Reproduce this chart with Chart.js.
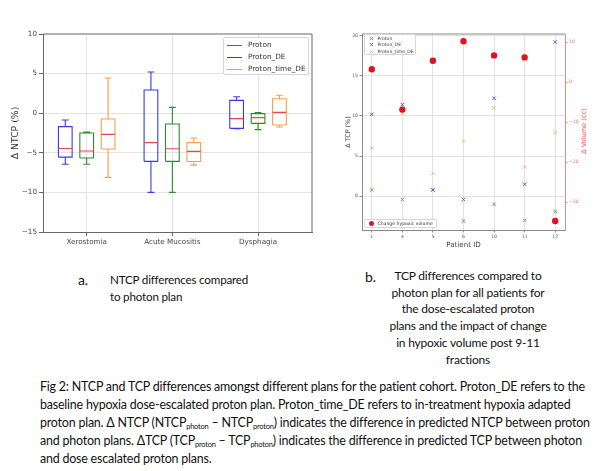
<!DOCTYPE html>
<html>
<head>
<meta charset="utf-8">
<script src="https://cdn.jsdelivr.net/npm/chart.js@4.4.1/dist/chart.umd.min.js"></script>
<style>
  body { margin: 0; background: #fff; width: 600px; height: 471px; position: relative; overflow: hidden; font-family: "DejaVu Sans", sans-serif; }
  .abs { position: absolute; }
  #boxWrap { left: 0; top: 20px; width: 330px; height: 240px; }
  #tcpWrap { left: 335px; top: 20px; width: 265px; height: 240px; }
  .legend { position: absolute; background: rgba(255,255,255,0.85); border: 1px solid #d6d6d6; border-radius: 2px; box-sizing: border-box; color: #333; }
  .legend .row { position: absolute; white-space: nowrap; }
  .cap { position: absolute; font-family: Lato, sans-serif; color: #111; white-space: nowrap; letter-spacing: -0.2px; }
  sub { font-size: 60%; vertical-align: -2px; line-height: 0; }
</style>
</head>
<body>
<div id="boxWrap" class="abs"><canvas id="boxChart"></canvas></div>
<div id="tcpWrap" class="abs"><canvas id="tcpChart"></canvas></div>

<div id="boxLegend" class="legend" style="left:223px;top:37px;width:86px;height:38px"></div>
<div id="tcpLegend" class="legend" style="left:364px;top:34px;width:52px;height:21px"></div>
<div id="volLegend" class="legend" style="left:364px;top:219px;width:73px;height:9px"></div>
<div class="abs" style="left:584px;top:131px;width:0;height:0">
  <div style="position:absolute;transform:translate(-50%,-50%) rotate(-90deg);font-size:6.6px;color:#e84848;white-space:nowrap">Δ Volume (cc)</div>
</div>

<div class="cap" style="left:78px;top:271px;font-size:14px">a.</div>
<div id="capA" class="cap" style="left:110px;top:271px;font-size:14px;line-height:17px"><span class="l">NTCP differences compared</span><br><span class="l">to photon plan</span></div>
<div class="cap" style="left:365px;top:268px;font-size:14px">b.</div>
<div id="capB" class="cap" style="left:468px;top:268px;font-size:14px;line-height:16.7px;text-align:center;transform:translateX(-50%)"><span class="l">TCP differences compared to</span><br><span class="l">photon plan for all patients for</span><br><span class="l">the dose-escalated proton</span><br><span class="l">plans and the impact of change</span><br><span class="l">in hypoxic volume post 9-11</span><br><span class="l">fractions</span></div>
<div id="capFig" class="cap" style="left:40px;top:378px;font-size:12.5px;line-height:18px"><span class="l">Fig 2: NTCP and TCP differences amongst different plans for the patient cohort. Proton_DE refers to the</span><br><span class="l">baseline hypoxia dose-escalated proton plan. Proton_time_DE refers to in-treatment hypoxia adapted</span><br><span class="l">proton plan. Δ NTCP (NTCP<sub>photon</sub> – NTCP<sub>proton</sub>) indicates the difference in predicted NTCP between proton</span><br><span class="l">and photon plans. ΔTCP (TCP<sub>proton</sub> – TCP<sub>photon</sub>) indicates the difference in predicted TCP between photon</span><br><span class="l">and dose escalated proton plans.</span></div>

<script>
// ---- panel a: NTCP box plots ----
const organs = ["Xerostomia", "Acute Mucositis", "Dysphagia"];
const planNames = ["Proton", "Proton_DE", "Proton_time_DE"];
// [lower whisker, Q1, median, Q3, upper whisker] per organ
const protonBox = [[-6.45, -5.65, -4.77, -2.5, -2.37], [-10, -6.08, -4.48, -1.36, 0.74], [-2.08, -1.28, -0.56, -0.05, 0.07]];
const protonDeBox = [[-6.45, -5.55, -4.45, -1.7, -0.86], [-10, -6.08, -3.72, 2.93, 5.2], [-1.95, -1.91, -0.69, 1.62, 2.08]];
const protonTimeDeBox = [[-8.1, -4.52, -2.67, -0.73, 4.45], [-6.55, -6.1, -4.82, -3.72, -3.13], [-1.74, -1.49, 0.1, 1.83, 2.26]];
const ntcpTicks = [-15, -10, -5, 0, 5, 10];

// ---- panel b: TCP per patient ----
const patientIds = ["1", "4", "5", "6", "10", "11", "12"];
const tcpProton = [0.8, -0.4, 0.8, -3.1, -1.0, -3.0, -1.9];
const tcpProtonDe = [10.2, 11.4, 0.8, -0.4, 12.2, 1.5, 19.2];
const tcpProtonTimeDe = [6.0, 10.3, 2.85, 6.85, 11.0, 3.65, 7.9];
const hypoxicVolumeChange = [3.2, -6.9, 5.3, 10.2, 6.65, 6.15, -34.75];
const tcpTicks = [0, 5, 10, 15, 20];
const volumeTicks = [-30, -20, -10, 0, 10];

const boxColors = ["#2f8a2f", "#3b3be3", "#f5a04c"];
const boxOffsets = [0, -0.25, 0.25];
const medianColor = "#e4474d";
const markColors = ["#4d9e4d", "#4646e0", "#f2b376"];
const volumeColor = "#e0141c";
const volAxisColor = "#f08a8a";

Chart.defaults.font.family = "DejaVu Sans";
Chart.defaults.animation = false;

const minus = v => (v < 0 ? "\u2212" + Math.abs(v) : String(v));

// top/right spines like a matplotlib axes box
const framePlugin = {
  id: "frame",
  beforeDatasetsDraw(chart, args, opts) {
    const { ctx, chartArea: a } = chart;
    ctx.save();
    ctx.strokeStyle = opts.color;
    ctx.lineWidth = 1;
    ctx.beginPath();
    ctx.moveTo(a.left, a.top);
    ctx.lineTo(a.right, a.top);
    if (opts.right) ctx.lineTo(a.right, a.bottom);
    ctx.stroke();
    ctx.restore();
  }
};

const boxWidth = 0.16;
const gap = x => ({ x: x, y: null });

function boxLines(stats, offset) {
  const pts = [];
  stats.forEach(([lo, q1, med, q3, hi], i) => {
    const c = i + 1 + offset, h = boxWidth / 2, cap = boxWidth / 4;
    pts.push({ x: c - h, y: q1 }, { x: c + h, y: q1 }, { x: c + h, y: q3 }, { x: c - h, y: q3 }, { x: c - h, y: q1 }, gap(c));
    pts.push({ x: c, y: q3 }, { x: c, y: hi }, gap(c), { x: c - cap, y: hi }, { x: c + cap, y: hi }, gap(c));
    pts.push({ x: c, y: q1 }, { x: c, y: lo }, gap(c), { x: c - cap, y: lo }, { x: c + cap, y: lo }, gap(c));
  });
  return pts;
}

function medianLines(stats, offset) {
  const pts = [];
  stats.forEach((s, i) => {
    const c = i + 1 + offset, h = boxWidth / 2;
    pts.push({ x: c - h, y: s[2] }, { x: c + h, y: s[2] }, gap(c));
  });
  return pts;
}

const allBoxes = [protonBox, protonDeBox, protonTimeDeBox];
const boxDatasets = [];
allBoxes.forEach((stats, k) => {
  boxDatasets.push({
    label: planNames[k], data: boxLines(stats, boxOffsets[k]),
    showLine: true, spanGaps: false, borderColor: boxColors[k], borderWidth: 1.1,
    pointRadius: 0, order: 2
  });
  boxDatasets.push({
    label: planNames[k] + " median", data: medianLines(stats, boxOffsets[k]),
    showLine: true, spanGaps: false, borderColor: medianColor, borderWidth: 1.1,
    pointRadius: 0, order: 1
  });
});

new Chart(document.getElementById("boxChart"), {
  type: "scatter",
  data: { datasets: boxDatasets },
  plugins: [framePlugin],
  options: {
    responsive: true, maintainAspectRatio: false,
    layout: { padding: { top: 14, right: 18, left: 0, bottom: 0 } },
    plugins: { legend: { display: false }, tooltip: { enabled: false }, frame: { color: "#666", right: true } },
    scales: {
      x: {
        type: "linear", min: 0.49, max: 3.63,
        afterBuildTicks: s => { s.ticks = organs.map((_, i) => ({ value: i + 1 })); },
        afterFit: s => { s.height = 28; },
        ticks: { callback: (v, i) => organs[i], font: { size: 7.2 }, color: "#444", padding: 2, maxRotation: 0 },
        grid: { color: "#e4e4e4", tickLength: 4, tickColor: "#666" },
        border: { color: "#666" }
      },
      y: {
        min: -15, max: 10,
        afterBuildTicks: s => { s.ticks = ntcpTicks.map(v => ({ value: v })); },
        afterFit: s => { s.width = 43; },
        ticks: { callback: v => minus(v), font: { size: 7.2 }, color: "#444", padding: 2 },
        grid: { color: c => (c.tick && (c.tick.value === 10 || c.tick.value === -15) ? "rgba(0,0,0,0)" : "#e4e4e4"), tickLength: 4, tickColor: "#666" },
        border: { color: "#666" },
        title: { display: true, text: "Δ NTCP (%)", font: { size: 9.3 }, color: "#333", padding: { top: 10, bottom: 0 } }
      }
    }
  }
});

// ---- panel b chart ----
const toPts = arr => arr.map((v, i) => ({ x: i, y: v }));
const tcpSeries = [tcpProton, tcpProtonDe, tcpProtonTimeDe];
const tcpDatasets = tcpSeries.map((arr, k) => ({
  label: planNames[k], data: toPts(arr), yAxisID: "y",
  pointStyle: "crossRot", pointRadius: 2.5, borderWidth: 0.9,
  borderColor: markColors[k], backgroundColor: markColors[k], order: 4 - k
}));
tcpDatasets.push({
  label: "Change hypoxic volume", data: toPts(hypoxicVolumeChange), yAxisID: "y2",
  pointStyle: "circle", pointRadius: 3.2, borderWidth: 0,
  backgroundColor: volumeColor, borderColor: volumeColor, order: 0
});

new Chart(document.getElementById("tcpChart"), {
  type: "scatter",
  data: { datasets: tcpDatasets },
  plugins: [framePlugin],
  options: {
    responsive: true, maintainAspectRatio: false,
    layout: { padding: { top: 14, right: 0, left: 0, bottom: 11 } },
    plugins: { legend: { display: false }, tooltip: { enabled: false }, frame: { color: "#8a8a8a", right: false } },
    scales: {
      x: {
        type: "linear", min: -0.32, max: 6.32,
        afterBuildTicks: s => { s.ticks = patientIds.map((_, i) => ({ value: i })); },
        afterFit: s => { s.height = 19; },
        ticks: { callback: (v, i) => patientIds[i], font: { size: 4.6 }, color: "#555", padding: 1.5, maxRotation: 0 },
        grid: { color: "#e2e2e2", tickLength: 2.5, tickColor: "#8a8a8a" },
        border: { color: "#8a8a8a" },
        title: { display: true, text: "Patient ID", font: { size: 7.1 }, color: "#444", padding: { top: 1, bottom: 0 } }
      },
      y: {
        min: -4.2, max: 20.2,
        afterBuildTicks: s => { s.ticks = tcpTicks.map(v => ({ value: v })); },
        afterFit: s => { s.width = 27; },
        ticks: { callback: v => minus(v), font: { size: 4.6 }, color: "#555", padding: 1.5 },
        grid: { color: "#e2e2e2", tickLength: 2.5, tickColor: "#8a8a8a" },
        border: { color: "#8a8a8a" },
        title: { display: true, text: "Δ TCP (%)", font: { size: 6.4 }, color: "#444", padding: { top: 10, bottom: 0 } }
      },
      y2: {
        position: "right", min: -37, max: 12,
        afterBuildTicks: s => { s.ticks = volumeTicks.map(v => ({ value: v })); },
        afterFit: s => { s.width = 35; },
        ticks: { callback: v => minus(v), font: { size: 4.6 }, color: "#f07070", padding: 1.5 },
        grid: { drawOnChartArea: false, tickLength: 2.5, tickColor: volAxisColor },
        border: { color: volAxisColor }
      }
    }
  }
});

// ---- HTML legends built from the same names/colours ----
const boxLegend = document.getElementById("boxLegend");
planNames.forEach((name, k) => {
  const row = document.createElement("div");
  row.className = "row";
  row.style.cssText = `left:3px;top:${1 + k * 12}px;height:12px;line-height:12px;font-size:7.3px`;
  row.innerHTML = `<span style="display:inline-block;width:15px;height:0;border-top:1.3px solid ${boxColors[k]};vertical-align:middle;margin-right:6px"></span>${name}`;
  boxLegend.appendChild(row);
});

const xMark = c => `<svg width="5" height="5" style="vertical-align:middle;margin-right:4px"><path d="M0.8 0.8L4.2 4.2M4.2 0.8L0.8 4.2" stroke="${c}" stroke-width="0.8"/></svg>`;
const tcpLegend = document.getElementById("tcpLegend");
planNames.forEach((name, k) => {
  const row = document.createElement("div");
  row.className = "row";
  row.style.cssText = `left:3.5px;top:${0.5 + k * 6.7}px;height:6.7px;line-height:6.7px;font-size:4.6px`;
  row.innerHTML = xMark(markColors[k]) + name;
  tcpLegend.appendChild(row);
});
const volLegend = document.getElementById("volLegend");
volLegend.innerHTML = `<div class="row" style="left:3.5px;top:0;height:7px;line-height:7px;font-size:4.6px"><span style="display:inline-block;width:5px;height:5px;border-radius:50%;background:${volumeColor};vertical-align:middle;margin-right:4px"></span>Change hypoxic volume</div>`;

// scale caption font so a reference line matches its measured width (Calibri is narrower than Lato)
function fitCaption(id, line, target) {
  const el = document.getElementById(id);
  const span = el.querySelectorAll("span.l")[line];
  const w = span.getBoundingClientRect().width;
  const fs = parseFloat(el.style.fontSize);
  el.style.fontSize = (fs * target / w).toFixed(2) + "px";
}
fitCaption("capA", 0, 139);
fitCaption("capB", 1, 154);
fitCaption("capFig", 0, 545);
</script>
</body>
</html>
